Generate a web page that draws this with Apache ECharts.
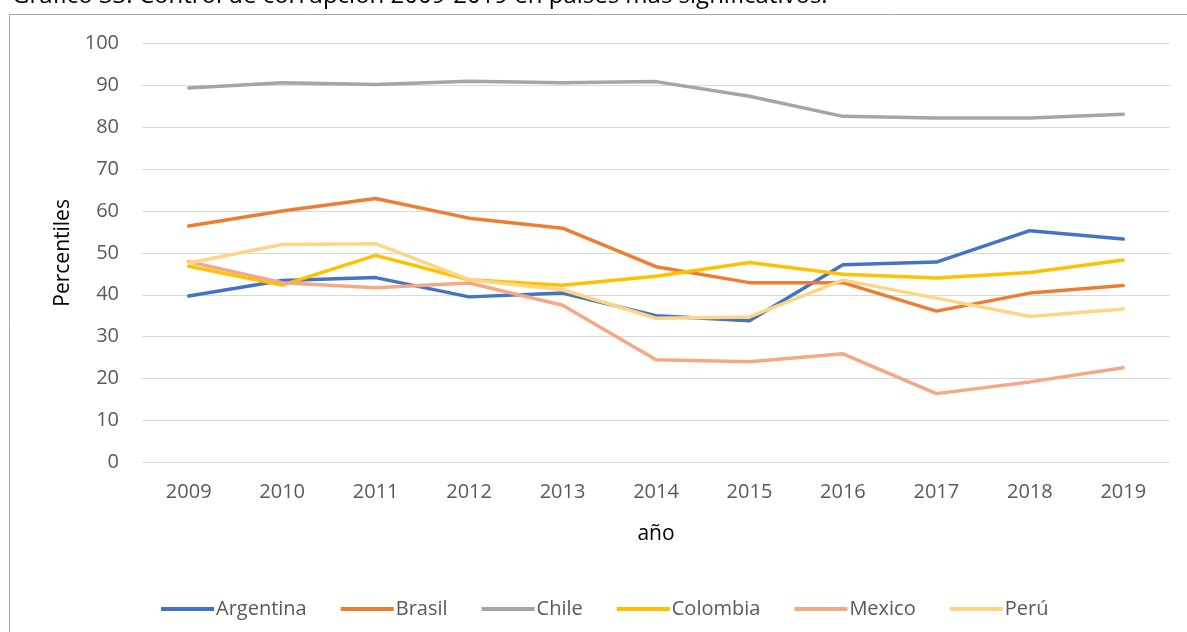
<!DOCTYPE html>
<html>
<head>
<meta charset="utf-8">
<script src="https://cdn.jsdelivr.net/npm/echarts@6/dist/echarts.min.js"></script>
<style>
  html, body { margin: 0; padding: 0; background: #ffffff; }
  #chart { width: 1187px; height: 632px; }
</style>
</head>
<body>
<div id="chart"></div>
<script>
// Control de corrupción, percentiles por país, 2009-2019
const years = ['2009', '2010', '2011', '2012', '2013', '2014', '2015', '2016', '2017', '2018', '2019'];
const argentina = [39.7, 43.4, 44.1, 39.5, 40.4, 35.0, 33.8, 47.2, 47.8, 55.3, 53.3];
const brasil    = [56.4, 60.0, 63.0, 58.3, 55.9, 46.7, 42.9, 42.9, 36.1, 40.4, 42.2];
const chile     = [89.4, 90.6, 90.2, 91.0, 90.6, 90.9, 87.4, 82.6, 82.2, 82.2, 83.1];
const colombia  = [46.8, 42.3, 49.4, 43.6, 42.3, 44.4, 47.7, 44.9, 44.0, 45.3, 48.3];
const mexico    = [47.9, 42.9, 41.7, 42.8, 37.5, 24.5, 24.0, 25.9, 16.4, 19.2, 22.6];
const peru      = [47.6, 52.0, 52.2, 43.6, 41.2, 34.4, 34.7, 43.5, 39.2, 34.8, 36.6];

const countries = ['Argentina', 'Brasil', 'Chile', 'Colombia', 'Mexico', 'Perú'];
const values = [argentina, brasil, chile, colombia, mexico, peru];
const colors = ['#4472C4', '#ED7D31', '#A5A5A5', '#FFC000', '#F4A886', '#FFD584'];

const FONT = '"Open Sans", Lato, sans-serif';

const chart = echarts.init(document.getElementById('chart'), null, { renderer: 'canvas' });

chart.setOption({
  animation: false,
  backgroundColor: '#ffffff',
  color: colors,
  graphic: [
    {
      type: 'text',
      x: 12,
      y: -3.5,
      silent: true,
      style: {
        text: 'Gráfico 33: Control de corrupción 2009-2019 en países más significativos.',
        font: '24px ' + FONT,
        fill: '#000000',
        verticalAlign: 'middle'
      }
    },
    {
      type: 'rect',
      silent: true,
      z: -10,
      shape: { x: 9.5, y: 14.5, width: 1300, height: 800 },
      style: { fill: 'none', stroke: '#A6A6A6', lineWidth: 1 }
    }
  ],
  grid: { left: 142, right: 17, top: 43.5, bottom: 169.7, containLabel: false },
  legend: {
    left: 156,
    top: 594,
    icon: 'path://M0,0H53V4H0Z',
    itemWidth: 53,
    itemHeight: 4,
    itemGap: 34,
    textStyle: { fontFamily: FONT, fontSize: 20, color: '#595959', padding: [0, 0, 0, -3] },
    data: countries
  },
  xAxis: {
    type: 'category',
    data: years,
    boundaryGap: true,
    name: 'año',
    nameLocation: 'middle',
    nameGap: 61,
    nameTextStyle: { fontFamily: FONT, fontSize: 21, color: '#000000' },
    axisLine: { show: true, lineStyle: { color: '#D9D9D9', width: 1 } },
    axisTick: { show: false },
    axisLabel: { fontFamily: FONT, fontSize: 20, color: '#595959', margin: 20 }
  },
  yAxis: {
    type: 'value',
    min: 0,
    max: 100,
    interval: 10,
    name: 'Percentiles',
    nameLocation: 'middle',
    nameGap: 68,
    nameRotate: 90,
    nameTextStyle: { fontFamily: FONT, fontSize: 21, color: '#000000' },
    axisLine: { show: false },
    axisTick: { show: false },
    axisLabel: { fontFamily: FONT, fontSize: 20, color: '#595959', margin: 23 },
    splitLine: { show: true, lineStyle: { color: '#D9D9D9', width: 1 } }
  },
  series: countries.map((name, i) => ({
    name: name,
    type: 'line',
    data: values[i],
    showSymbol: false,
    symbol: 'none',
    smooth: false,
    lineStyle: { width: 3.5, color: colors[i], cap: 'round', join: 'round' },
    itemStyle: { color: colors[i] },
    emphasis: { disabled: true }
  }))
});
</script>
</body>
</html>
